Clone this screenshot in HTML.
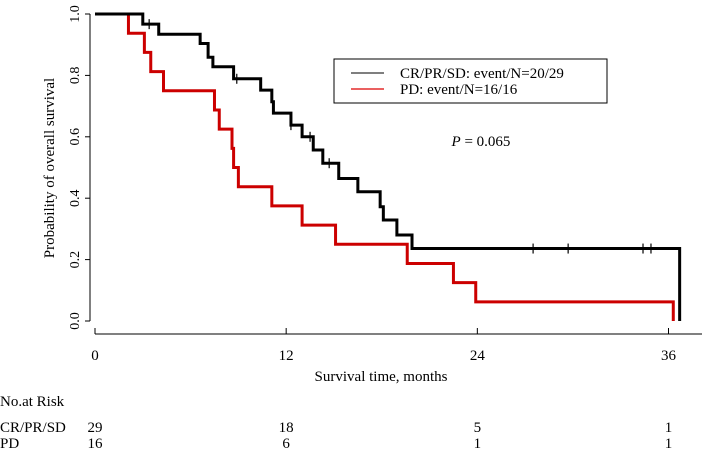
<!DOCTYPE html>
<html><head><meta charset="utf-8"><style>
body{margin:0;background:#fff}
svg{display:block;font-family:"Liberation Serif",serif}
</style></head><body>
<svg id="chart" width="702" height="450" viewBox="0 0 702 450"></svg>
<script>
const blackTimes=[0,3.0,4.0,6.6,7.1,7.4,8.7,10.4,11.1,11.2,12.3,13.0,13.7,14.3,15.3,16.5,17.9,18.1,18.95,19.9,36.7];
const blackSurv=[1,0.967,0.934,0.904,0.859,0.828,0.789,0.752,0.714,0.677,0.638,0.600,0.557,0.514,0.464,0.421,0.372,0.329,0.280,0.236,0];
const blackCensor=[3.4,8.9,12.3,13.5,14.7,27.5,29.7,34.4,34.9];
const redTimes=[0,2.1,3.1,3.5,4.3,7.5,7.8,8.6,8.7,9.0,11.1,13.0,15.1,19.6,22.5,23.9,36.3];
const redSurv=[1,0.9375,0.875,0.8125,0.75,0.6875,0.625,0.5625,0.5,0.4375,0.375,0.3125,0.25,0.1875,0.125,0.0625,0];
const xTicks=[0,12,24,36];
const yTicks=[0,0.2,0.4,0.6,0.8,1.0];
const riskBlack=[29,18,5,1];
const riskRed=[16,6,1,1];
const NS="http://www.w3.org/2000/svg";
const svg=document.getElementById('chart');
const X=t=>95+t*(668.5-95)/36;
const Y=s=>321-s*(321-14);
function el(tag,attrs,text){const e=document.createElementNS(NS,tag);for(const k in attrs)e.setAttribute(k,attrs[k]);if(text!==undefined)e.textContent=text;svg.appendChild(e);return e;}
let e;
e=el('line',{x1:90,y1:Y(0),x2:90,y2:Y(1),stroke:'#000','stroke-width':1});


yTicks.forEach(v=>{
 e=el('line',{x1:85,x2:90,y1:Y(v),y2:Y(v),stroke:'#000'});
 
 
 e=el('text',{x:0,y:0,'font-size':14,'text-anchor':'middle',transform:`translate(79,${Y(v)}) rotate(-90)`},v.toFixed(1));
 
 
});
e=el('text',{x:0,y:0,'font-size':15,'text-anchor':'middle',transform:'translate(54,168) rotate(-90)'},'Probability of overall survival');


e=el('line',{x1:95,x2:702,y1:334,y2:334,stroke:'#000'});


xTicks.forEach(v=>{
 e=el('line',{x1:X(v),x2:X(v),y1:328,y2:334,stroke:'#000'});
 
 
 e=el('text',{x:X(v),y:360,'font-size':15,'text-anchor':'middle'},String(v));
 
 
});
e=el('text',{x:381,y:381,'font-size':15,'text-anchor':'middle'},'Survival time, months');


function stepPath(ts,ss){let d=`M${X(ts[0])},${Y(ss[0])}`;for(let i=1;i<ts.length;i++){d+=` H${X(ts[i])} V${Y(ss[i])}`;}return d;}
function survAt(ts,ss,t){let s=ss[0];for(let i=0;i<ts.length;i++){if(ts[i]<=t)s=ss[i];}return s;}
e=el('path',{d:stepPath(redTimes,redSurv),fill:'none',stroke:'#cc0000','stroke-width':3});


e=el('path',{d:stepPath(blackTimes,blackSurv),fill:'none',stroke:'#000','stroke-width':3});


blackCensor.forEach(t=>{const y=Y(survAt(blackTimes,blackSurv,t));
 e=el('line',{x1:X(t),x2:X(t),y1:y-5,y2:y+5,stroke:'#000','stroke-width':1.2});
 
 
});
e=el('rect',{x:334,y:59,width:273,height:44,fill:'#fff',stroke:'#000','stroke-width':1});


e=el('line',{x1:351,x2:384,y1:73,y2:73,stroke:'#333','stroke-width':1.2});


e=el('text',{x:400,y:78,'font-size':15},'CR/PR/SD: event/N=20/29');


e=el('line',{x1:351,x2:384,y1:89,y2:89,stroke:'#dd0000','stroke-width':1.2});


e=el('text',{x:400,y:94,'font-size':15},'PD: event/N=16/16');


e=el('text',{x:481,y:146,'font-size':15,'text-anchor':'middle'});
e.innerHTML='<tspan font-style="italic">P</tspan> = 0.065';


e=el('text',{x:0,y:406,'font-size':15},'No.at Risk');


e=el('text',{x:0,y:432,'font-size':15},'CR/PR/SD');


e=el('text',{x:0,y:448,'font-size':15},'PD');


xTicks.forEach((t,i)=>{
 e=el('text',{x:X(t),y:432,'font-size':15,'text-anchor':'middle'},String(riskBlack[i]));
 
 
 e=el('text',{x:X(t),y:448,'font-size':15,'text-anchor':'middle'},String(riskRed[i]));
 
 
});
</script>
</body></html>
